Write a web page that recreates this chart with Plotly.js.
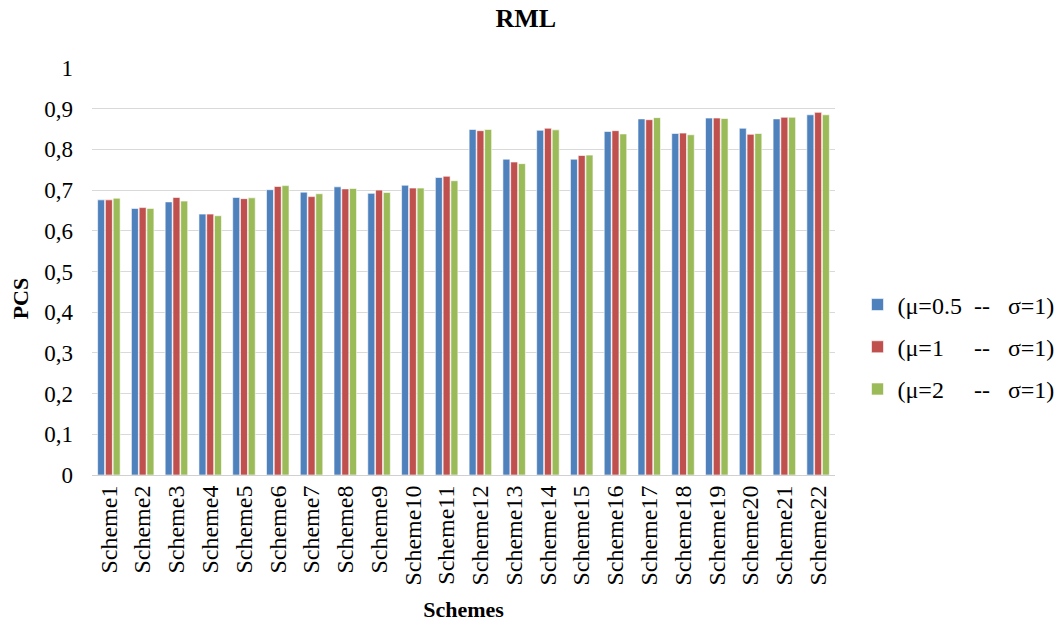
<!DOCTYPE html>
<html>
<head>
<meta charset="utf-8">
<script src="https://cdn.plot.ly/plotly-3.0.1.min.js"></script>
<style>
  html, body { margin: 0; padding: 0; background: #ffffff; }
  #chart { width: 1058px; height: 628px; }
</style>
</head>
<body>
<div id="chart"></div>
<script>
// Schemes on the x axis
const schemes = ["Scheme1","Scheme2","Scheme3","Scheme4","Scheme5","Scheme6","Scheme7","Scheme8","Scheme9","Scheme10","Scheme11",
                 "Scheme12","Scheme13","Scheme14","Scheme15","Scheme16","Scheme17","Scheme18","Scheme19","Scheme20","Scheme21","Scheme22"];

// PCS per scheme for each parameter setting
const pcsMu05 = [0.676,0.655,0.671,0.641,0.682,0.701,0.695,0.708,0.692,0.712,0.731,
                 0.849,0.776,0.847,0.776,0.844,0.875,0.839,0.877,0.852,0.875,0.885];
const pcsMu1  = [0.676,0.657,0.682,0.641,0.679,0.709,0.684,0.703,0.700,0.705,0.734,
                 0.846,0.769,0.852,0.785,0.846,0.873,0.840,0.877,0.837,0.879,0.891];
const pcsMu2  = [0.680,0.655,0.673,0.637,0.681,0.711,0.691,0.704,0.694,0.705,0.723,
                 0.849,0.765,0.848,0.786,0.838,0.878,0.836,0.876,0.839,0.879,0.885];

const NB = "\u00a0";
const seriesNames = [
  "(\u03bc=0.5" + NB.repeat(2) + "--" + NB.repeat(3) + "\u03c3=1)",
  "(\u03bc=1"   + NB.repeat(5) + "--" + NB.repeat(3) + "\u03c3=1)",
  "(\u03bc=2"   + NB.repeat(5) + "--" + NB.repeat(3) + "\u03c3=1)"
];
const seriesColors = ["#4f81bd", "#c0504d", "#9bbb59"];
const seriesValues = [pcsMu05, pcsMu1, pcsMu2];

const font = "Liberation Serif, Times New Roman, serif";

const traces = seriesValues.map((vals, i) => ({
  type: "bar",
  name: seriesNames[i],
  x: schemes,
  y: vals,
  legendgroup: "g" + i,
  marker: { color: seriesColors[i], line: { color: "rgba(255,255,255,0.6)", width: 1 } },
  hoverinfo: "x+y+name"
}));

const layout = {
  width: 1058,
  height: 628,
  paper_bgcolor: "#ffffff",
  plot_bgcolor: "#ffffff",
  separators: ", ",
  margin: { l: 92, r: 223, t: 68, b: 153 },
  title: {
    text: "<b>RML</b>",
    font: { family: font, size: 26, color: "#000000" },
    x: 0.497, xref: "container", xanchor: "center",
    y: 0.971, yref: "container", yanchor: "middle"
  },
  barmode: "group",
  bargap: 0.31,
  bargroupgap: 0.1,
  xaxis: {
    type: "category",
    tickangle: -90,
    tickfont: { family: font, size: 24, color: "#000000" },
    showline: true,
    linecolor: "#d0d0d0",
    linewidth: 1,
    ticks: "",
    showgrid: false,
    title: { text: "<b>Schemes</b>", font: { family: font, size: 22, color: "#000000" }, standoff: 17 }
  },
  yaxis: {
    range: [0, 1],
    dtick: 0.1,
    tick0: 0,
    tickfont: { family: font, size: 23, color: "#000000" },
    ticklabelstandoff: 18,
    showgrid: true,
    gridcolor: "#d9d9d9",
    gridwidth: 1,
    zeroline: false,
    showline: false,
    ticks: ""
  },
  annotations: [{
    text: "<b>PCS</b>",
    textangle: -90,
    xref: "paper", yref: "paper",
    x: -0.095, y: 0.435,
    xanchor: "center", yanchor: "middle",
    showarrow: false,
    font: { family: font, size: 22, color: "#000000" }
  }],
  legend: {
    xref: "container",
    yref: "container",
    x: 0.8105,
    xanchor: "left",
    y: 0.4475,
    yanchor: "middle",
    font: { family: font, size: 24, color: "#000000" },
    traceorder: "grouped",
    tracegroupgap: 8,
    itemwidth: 30,
    bgcolor: "rgba(0,0,0,0)"
  },
  showlegend: true
};

Plotly.newPlot("chart", traces, layout, { displayModeBar: false, staticPlot: true });
</script>
</body>
</html>
